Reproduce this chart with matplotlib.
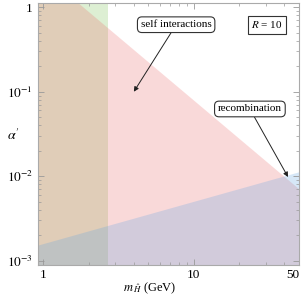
import numpy as np
import matplotlib
matplotlib.use("Agg")
import matplotlib.pyplot as plt
from matplotlib.ticker import FixedLocator, FixedFormatter, LogLocator, NullFormatter

plt.rcParams['font.family'] = ['Liberation Serif', 'DejaVu Serif']
plt.rcParams['mathtext.fontset'] = 'stix'

# data
m_range = [0.92, 50.0]
alpha_range = [9e-4, 1.12]
green_mmax = 2.7            # excluded region m < 2.7 GeV
self_coef, self_pow = 2.5, -1.5      # self interactions: alpha < 2.5 m^-1.5
rec_coef, rec_pow = 0.0016, 0.5      # recombination: alpha < 0.0016 m^0.5
xticks = [1, 10, 50]
xticklabels = ['1', '10', '50']
yticks = [1e-3, 1e-2, 1e-1, 1]
yticklabels = [r'$10^{-3}$', r'$10^{-2}$', r'$10^{-1}$', '1']

fig = plt.figure(figsize=(3.02, 2.99), dpi=100)
ax = fig.add_axes([0.125, 0.1147, 0.865, 0.8753])
ax.set_xscale('log'); ax.set_yscale('log')
ax.set_xlim(*m_range); ax.set_ylim(*alpha_range)

m = np.logspace(np.log10(m_range[0]), np.log10(m_range[1]), 400)
a_self = self_coef * m**self_pow
a_rec = rec_coef * m**rec_pow
lo = alpha_range[0] * 0.5
hi = alpha_range[1] * 2

a = 0.25
ax.fill_between([m_range[0], green_mmax], lo, hi, color=(123/255, 195/255, 83/255), alpha=a, lw=0)
ax.fill_between(m, lo, a_self, color=(235/255, 107/255, 107/255), alpha=a, lw=0)
ax.fill_between(m, lo, a_rec, color=(95/255, 163/255, 227/255), alpha=a, lw=0)

ax.xaxis.set_major_locator(FixedLocator(xticks))
ax.xaxis.set_major_formatter(FixedFormatter(xticklabels))
ax.xaxis.set_minor_locator(LogLocator(base=10, subs=np.arange(2, 10)))
ax.xaxis.set_minor_formatter(NullFormatter())
ax.yaxis.set_major_locator(FixedLocator(yticks))
ax.yaxis.set_major_formatter(FixedFormatter(yticklabels))
ax.yaxis.set_minor_locator(LogLocator(base=10, subs=np.arange(2, 10)))
ax.yaxis.set_minor_formatter(NullFormatter())

ax.tick_params(which='both', direction='in', top=True, right=True, colors='#999999',
               labelcolor='black', labelsize=9.5)
ax.tick_params(which='major', length=4, width=0.6)
ax.tick_params(which='minor', length=2, width=0.5)
ax.tick_params(axis='x', pad=3)
for s in ax.spines.values():
    s.set_color('#aaaaaa'); s.set_linewidth(0.8)

fig.canvas.draw()
xl = ax.get_xticklabels()
xl[-1].set_horizontalalignment('right')
xl[-1].set_x(xticks[-1])

ax.set_xlabel(r'$m_{\,\hat{H}}$ (GeV)', fontsize=9)
ax.xaxis.set_label_coords(0.43, -0.06)
ax.set_ylabel(r"$\alpha'$", fontsize=10, rotation=0, va='center')
ax.yaxis.set_label_coords(-0.095, 0.495)

box = dict(boxstyle='round,pad=0.3,rounding_size=0.4', fc='white', ec='#333333', lw=0.8)
ax.annotate('self interactions', xy=(4.0, 0.1), xytext=(7.64, 0.62), fontsize=8,
            ha='center', va='center', bbox=box,
            arrowprops=dict(arrowstyle='-|>', color='#222222', lw=0.7, shrinkA=0, shrinkB=0,
                            mutation_scale=7))
ax.annotate('recombination', xy=(42.3, 0.0098), xytext=(23.6, 0.0625), fontsize=8,
            ha='center', va='center', bbox=box,
            arrowprops=dict(arrowstyle='-|>', color='#222222', lw=0.7, shrinkA=0, shrinkB=0,
                            mutation_scale=7))
ax.text(30.6, 0.62, r'$R$ = 10', fontsize=8, ha='center', va='center',
        bbox=dict(boxstyle='square,pad=0.3', fc='white', ec='#333333', lw=0.8))

fig.savefig('out.png', dpi=100)
